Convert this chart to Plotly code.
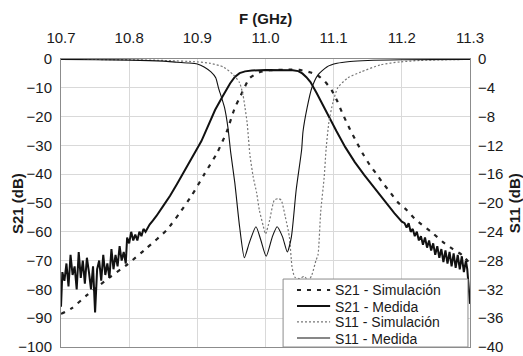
import plotly.graph_objects as go

# ---------------- data ----------------
# S21 - Simulación (dB, left axis)
s21_sim_f = [10.700, 10.716, 10.738, 10.772, 10.798, 10.826, 10.855, 10.874, 10.892, 10.911,
             10.929, 10.943, 10.955, 10.962, 10.970, 10.977, 10.992, 11.006, 11.036, 11.050,
             11.065, 11.077, 11.087, 11.097, 11.105, 11.112, 11.124, 11.134, 11.143, 11.153,
             11.163, 11.172, 11.182, 11.194, 11.207, 11.219, 11.245, 11.260, 11.275, 11.288, 11.300]
s21_sim_db = [-88.5, -86.5, -82.0, -75.7, -71.2, -65.6, -59.4, -53.5, -47.3, -39.7,
              -32.6, -25.3, -17.0, -13.5, -9.5, -6.6, -4.5, -3.9, -3.7, -3.8,
              -4.6, -5.8, -7.8, -10.8, -14.5, -18.4, -24.5, -29.0, -33.0, -36.8,
              -40.0, -43.0, -46.0, -49.7, -52.4, -55.5, -60.4, -63.5, -66.0, -68.0, -71.0]

# S21 - Medida (dB, left axis)
s21_meas_f = [10.700, 10.702, 10.705, 10.708, 10.711, 10.714, 10.717, 10.720, 10.723, 10.726,
              10.729, 10.732, 10.735, 10.738, 10.741, 10.744, 10.747, 10.750, 10.753, 10.756,
              10.759, 10.762, 10.765, 10.768, 10.771, 10.774, 10.777, 10.780, 10.783, 10.786,
              10.789, 10.792, 10.795, 10.797, 10.800, 10.803, 10.806, 10.809, 10.812, 10.815,
              10.818, 10.821, 10.824, 10.827, 10.830, 10.835, 10.840, 10.850, 10.860, 10.870,
              10.880, 10.890, 10.900, 10.906, 10.915, 10.926, 10.937, 10.943, 10.948, 10.955,
              10.962, 10.970, 10.980, 11.000, 11.020, 11.040, 11.048, 11.054, 11.060, 11.066,
              11.075, 11.089, 11.104, 11.117, 11.131, 11.145, 11.160, 11.174, 11.189, 11.200,
              11.204, 11.207, 11.210, 11.213, 11.216, 11.219, 11.222, 11.225, 11.228, 11.231,
              11.234, 11.237, 11.240, 11.243, 11.246, 11.249, 11.252, 11.255, 11.258, 11.261,
              11.264, 11.267, 11.270, 11.273, 11.276, 11.279, 11.282, 11.285, 11.288, 11.291,
              11.294, 11.296, 11.298, 11.300]
s21_meas_db = [-86, -74, -77, -71, -79, -68, -75, -72, -80, -67,
               -76, -70, -78, -69, -74, -80, -72, -88, -73, -70,
               -77, -68, -75, -71, -76, -66, -73, -68, -72, -65,
               -70, -67, -71, -62, -64, -60, -63, -61, -63, -60,
               -61.5, -59, -60, -58.5, -57.5, -56, -54.5, -51, -47.5, -43.5,
               -39.5, -35, -31, -28.5, -23.6, -17.7, -13, -10.5, -8.5, -6.2,
               -4.9, -4.3, -4.0, -3.8, -3.8, -3.9, -4.2, -5.0, -6.3, -8.0,
               -11.8, -18.4, -25, -30.6, -35.8, -40.3, -44.8, -49.3, -53.5, -56.5,
               -57, -58.5, -57, -60, -59, -61.5, -60, -63, -61.5, -64.5,
               -62, -65.5, -63, -66.5, -64, -68, -65, -69, -66, -70.5,
               -66.5, -71, -67, -72, -67.5, -72.5, -68, -73, -68.5, -74,
               -70, -73, -80, -85]

# S11 - Simulación (dB, right axis)
s11_sim_f = [10.700, 10.800, 10.850, 10.900, 10.919, 10.938, 10.953, 10.962, 10.967, 10.970,
             10.973, 10.975, 10.977, 10.982, 10.987, 10.991, 10.997, 11.000, 11.006, 11.013,
             11.019, 11.023, 11.029, 11.035, 11.039, 11.043, 11.050, 11.057, 11.063, 11.068,
             11.074, 11.077, 11.081, 11.086, 11.089, 11.093, 11.099, 11.106, 11.121, 11.140,
             11.169, 11.198, 11.227, 11.300]
s11_sim_db = [-0.05, -0.1, -0.2, -0.4, -0.6, -1.1, -2.2, -3.3, -5.0, -6.8,
              -8.8, -11.0, -13.2, -16.4, -18.6, -21.0, -23.3, -24.3, -22.4, -19.6,
              -19.4, -19.6, -21.9, -24.7, -28.9, -30.3, -30.5, -30.2, -30.8, -30.0,
              -28.0, -27.2, -21.2, -16.5, -12.4, -8.8, -6.0, -4.0, -2.6, -1.8,
              -0.8, -0.4, -0.2, -0.05]

# S11 - Medida (dB, right axis)
s11_meas_f = [10.700, 10.750, 10.800, 10.850, 10.870, 10.886, 10.900, 10.910, 10.920, 10.927,
              10.931, 10.936, 10.940, 10.945, 10.949, 10.955, 10.962, 10.969, 10.976, 10.986,
              10.993, 11.001, 11.010, 11.017, 11.025, 11.032, 11.038, 11.045, 11.053, 11.055,
              11.061, 11.068, 11.077, 11.090, 11.105, 11.124, 11.150, 11.200, 11.300]
s11_meas_db = [-0.05, -0.1, -0.15, -0.3, -0.45, -0.55, -0.7, -1.1, -1.8, -2.6,
               -4.0, -5.5, -6.8, -9.6, -13.0, -17.2, -23.3, -27.6, -25.6, -23.3,
               -25.1, -27.4, -24.7, -23.3, -24.7, -26.8, -24.7, -18.2, -12.6, -10.1,
               -6.8, -4.0, -2.2, -1.1, -0.6, -0.35, -0.2, -0.1, -0.05]

series_names = ["S21 - Simulación", "S21 - Medida", "S11 - Simulación", "S11 - Medida"]

x_ticks = [10.7, 10.8, 10.9, 11.0, 11.1, 11.2, 11.3]
y_left_ticks = [0, -10, -20, -30, -40, -50, -60, -70, -80, -90, -100]
y_right_ticks = [0, -4, -8, -12, -16, -20, -24, -28, -32, -36, -40]

# ---------------- figure ----------------
FONT = "Liberation Sans, Arial, sans-serif"
GRID = "#d9d9d9"
FRAME = "#8c8c8c"

fig = go.Figure()
fig.add_trace(go.Scatter(x=s21_sim_f, y=s21_sim_db, mode="lines", name=series_names[0],
                         line=dict(color="#222222", width=2.2, dash="4px,6px", shape="spline", smoothing=0.6),
                         yaxis="y"))
fig.add_trace(go.Scatter(x=s21_meas_f, y=s21_meas_db, mode="lines", name=series_names[1],
                         line=dict(color="#111111", width=2), yaxis="y"))
fig.add_trace(go.Scatter(x=s11_sim_f, y=s11_sim_db, mode="lines", name=series_names[2],
                         line=dict(color="#777777", width=1.2, dash="2px,2px", shape="spline", smoothing=0.6),
                         yaxis="y2"))
fig.add_trace(go.Scatter(x=s11_meas_f, y=s11_meas_db, mode="lines", name=series_names[3],
                         line=dict(color="#111111", width=1.1, shape="spline", smoothing=0.6),
                         yaxis="y2"))

fig.update_layout(
    width=523, height=356,
    margin=dict(l=61, r=53, t=59, b=9, autoexpand=False),
    paper_bgcolor="white", plot_bgcolor="white",
    font=dict(family=FONT, size=15, color="#1a1a1a"),
    showlegend=False,
    xaxis=dict(side="top", range=[10.7, 11.3], tickvals=x_ticks, tickformat=".1f",
               showgrid=True, gridcolor=GRID, gridwidth=1, zeroline=False,
               showline=True, linecolor=FRAME, linewidth=1, mirror=True,
               ticks="", ticklabelstandoff=9, automargin=False),
    yaxis=dict(range=[-100, 0], tickvals=y_left_ticks, showgrid=True, gridcolor=GRID, gridwidth=1,
               zeroline=False, showline=True, linecolor=FRAME, linewidth=1, mirror=True,
               ticks="", ticklabelstandoff=5, automargin=False),
    yaxis2=dict(range=[-40, 0], tickvals=y_right_ticks, overlaying="y", side="right",
                showgrid=False, zeroline=False, showline=False,
                ticks="", ticklabelstandoff=7, automargin=False),
)

# axis titles
fig.add_annotation(text="<b>F (GHz)</b>", xref="paper", yref="paper", x=0.5, y=1.1406,
                   xanchor="center", yanchor="middle", showarrow=False, font=dict(size=15))
fig.add_annotation(text="<b>S21 (dB)</b>", xref="paper", yref="paper", x=-0.1076, y=0.5,
                   xanchor="center", yanchor="middle", showarrow=False, textangle=-90,
                   font=dict(size=15))
fig.add_annotation(text="<b>S11 (dB)</b>", xref="paper", yref="paper", x=1.108, y=0.5,
                   xanchor="center", yanchor="middle", showarrow=False, textangle=-90,
                   font=dict(size=15))

# manual compact legend (box, line samples, labels) in paper coordinates
fig.add_shape(type="rect", xref="paper", yref="paper", x0=0.543, x1=0.995, y0=0.0, y1=0.236,
              fillcolor="white", line=dict(color=FRAME, width=1), layer="above")
row_y = [0.198, 0.142, 0.087, 0.031]
styles = [dict(color="#222222", width=2.2, dash="4px,6px"),
          dict(color="#111111", width=2),
          dict(color="#777777", width=1.2, dash="2px,2px"),
          dict(color="#111111", width=1.1)]
for name, yy, st in zip(series_names, row_y, styles):
    fig.add_shape(type="line", xref="paper", yref="paper", x0=0.577, x1=0.658, y0=yy, y1=yy,
                  line=st, layer="above")
    fig.add_annotation(text=name, xref="paper", yref="paper", x=0.665, y=yy,
                       xanchor="left", yanchor="middle", showarrow=False,
                       font=dict(size=14, color="#1a1a1a"), height=15)

fig.write_html("out.html", config={"displayModeBar": False},
               post_script="document.body.style.margin='0';")
